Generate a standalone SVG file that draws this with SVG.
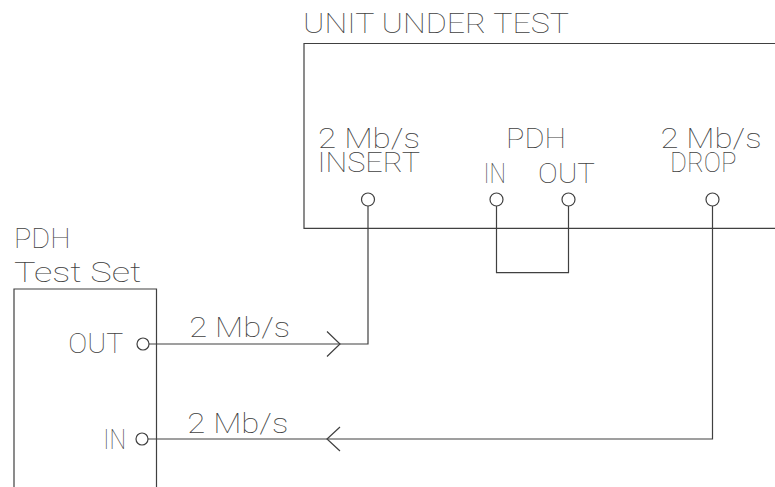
<svg xmlns="http://www.w3.org/2000/svg" width="775" height="487" viewBox="0 0 775 487">
<style>
  .t { font-family: Roboto, "Liberation Sans", sans-serif; font-weight: 100; font-size: 28px; fill: #404040; opacity: 0.99; }
  .ln { fill: none; stroke: #404040; stroke-width: 1.2; }
  .port { fill: #fff; stroke: #404040; stroke-width: 1.2; }
</style>
<rect width="775" height="487" fill="#fff"/>
<g id="uut">
  <path class="ln" d="M780,43.5 H304 V228.3 H780"/>
  <text class="t" x="303" y="33" textLength="266" lengthAdjust="spacingAndGlyphs">UNIT UNDER TEST</text>
  <text class="t" x="318" y="148.3" textLength="102" lengthAdjust="spacingAndGlyphs">2 Mb/s</text>
  <text class="t" x="317.5" y="171.7" textLength="102.5" lengthAdjust="spacingAndGlyphs">INSERT</text>
  <text class="t" x="506" y="148.3" textLength="60" lengthAdjust="spacingAndGlyphs">PDH</text>
  <text class="t" x="483.5" y="182.7" textLength="22.5" lengthAdjust="spacingAndGlyphs">IN</text>
  <text class="t" x="538" y="182.7" textLength="57" lengthAdjust="spacingAndGlyphs">OUT</text>
  <text class="t" x="660.5" y="148.3" textLength="101" lengthAdjust="spacingAndGlyphs">2 Mb/s</text>
  <text class="t" x="670" y="171.7" textLength="66.5" lengthAdjust="spacingAndGlyphs">DROP</text>
  <circle class="port" cx="368" cy="199.5" r="6.5"/>
  <circle class="port" cx="496.5" cy="199.5" r="6.5"/>
  <circle class="port" cx="568.5" cy="199.5" r="6.5"/>
  <circle class="port" cx="712.5" cy="199.5" r="6.5"/>
</g>
<g id="testset">
  <path class="ln" d="M14,490 V289 H156.5 V490"/>
  <text class="t" x="14" y="248.3" textLength="56.5" lengthAdjust="spacingAndGlyphs">PDH</text>
  <text class="t" x="14" y="281.7" textLength="127.5" lengthAdjust="spacingAndGlyphs">Test Set</text>
  <text class="t" x="68.3" y="352.7" textLength="55" lengthAdjust="spacingAndGlyphs">OUT</text>
  <text class="t" x="103.3" y="449.3" textLength="22.7" lengthAdjust="spacingAndGlyphs">IN</text>
  <circle class="port" cx="143" cy="344" r="6"/>
  <circle class="port" cx="142" cy="439" r="6"/>
</g>
<g id="connectors">
  <path class="ln" d="M149,344 H368 V206"/>
  <path class="ln" d="M327,331.5 L340,344 L327,356.5"/>
  <text class="t" x="189.3" y="337.3" textLength="100.7" lengthAdjust="spacingAndGlyphs">2 Mb/s</text>
  <path class="ln" d="M496.5,206 V272.7 H568.5 V206"/>
  <path class="ln" d="M712.5,206 V439 H148"/>
  <path class="ln" d="M340,427 L327,439 L340,451"/>
  <text class="t" x="187.3" y="433.3" textLength="101" lengthAdjust="spacingAndGlyphs">2 Mb/s</text>
</g>
</svg>
